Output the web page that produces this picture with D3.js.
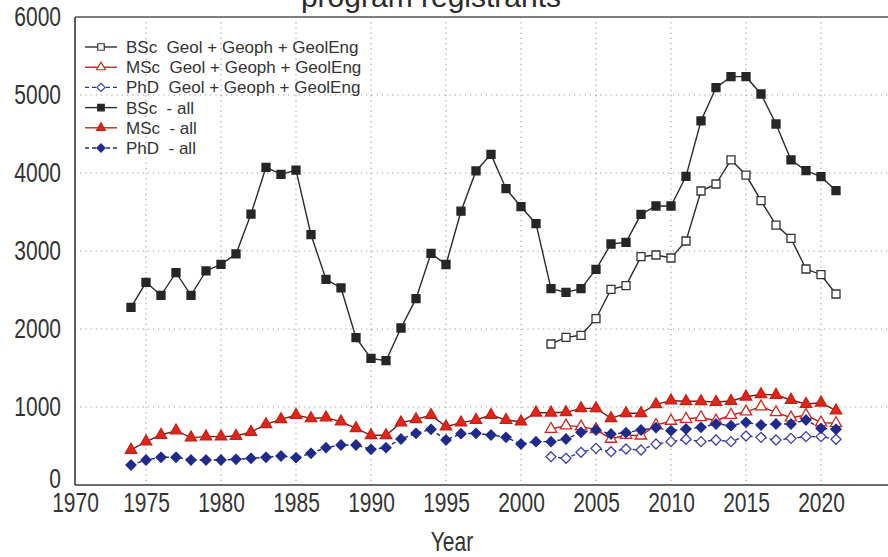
<!DOCTYPE html>
<html>
<head>
<meta charset="utf-8">
<script src="https://cdn.jsdelivr.net/npm/d3@7"></script>
<style>
  html, body { margin: 0; padding: 0; background: #fff; }
  svg { display: block; font-family: "Liberation Sans", Arial, sans-serif; }
</style>
</head>
<body>
<svg id="chart" width="888" height="557"></svg>
<script>
// Registrant counts per year
const yearsAll = d3.range(1974, 2022);
const yearsGeo = d3.range(2002, 2022);

const bscAll = [2278, 2599, 2432, 2722, 2432, 2744, 2829, 2962, 3474, 4073, 3983, 4038,
  3209, 2637, 2526, 1889, 1624, 1594, 2013, 2389, 2970, 2827, 3510, 4026, 4239, 3799,
  3568, 3350, 2517, 2470, 2517, 2765, 3090, 3111, 3470, 3577, 3577, 3957, 4667, 5094,
  5235, 5235, 5013, 4628, 4167, 4030, 3953, 3773];
const mscAll = [449, 556, 641, 697, 607, 620, 620, 628, 679, 778, 842, 897, 855, 863, 812,
  726, 637, 637, 799, 842, 897, 748, 799, 833, 897, 833, 812, 927, 927, 932, 983, 983,
  855, 919, 919, 1034, 1081, 1073, 1073, 1064, 1077, 1132, 1162, 1154, 1090, 1038, 1055, 953];
const phdAll = [256, 321, 355, 355, 321, 321, 321, 329, 342, 355, 372, 350, 406, 479, 513,
  513, 457, 479, 590, 662, 714, 577, 658, 662, 641, 611, 526, 556, 556, 590, 675, 705,
  654, 671, 705, 735, 697, 718, 739, 782, 761, 803, 769, 782, 782, 833, 726, 714];
const bscGeo = [1808, 1893, 1919, 2132, 2509, 2556, 2927, 2949, 2910, 3128, 3769, 3859,
  4167, 3974, 3645, 3333, 3162, 2769, 2696, 2449];
const mscGeo = [718, 761, 748, 714, 590, 641, 632, 769, 821, 846, 868, 825, 897, 940,
  1004, 932, 863, 897, 799, 791];
const phdGeo = [363, 342, 419, 470, 427, 462, 449, 526, 556, 586, 556, 577, 556, 628,
  611, 577, 598, 620, 620, 586];

const xTicks = d3.range(1970, 2021, 5);
const yTicks = d3.range(0, 6001, 1000);
const titleText = "program registrants";
const xLabel = "Year";

const legendLabels = [
  "BSc  Geol + Geoph + GeolEng",
  "MSc  Geol + Geoph + GeolEng",
  "PhD  Geol + Geoph + GeolEng",
  "BSc  - all",
  "MSc  - all",
  "PhD  - all"
];

// Square-on-point diamond (equal width and height)
const symbolRhombus = {
  draw(context, size) {
    const r = Math.sqrt(size / 2);
    context.moveTo(0, -r);
    context.lineTo(r, 0);
    context.lineTo(0, r);
    context.lineTo(-r, 0);
    context.closePath();
  }
};
const shapeTypes = { square: d3.symbolSquare, triangle: d3.symbolTriangle, diamond: symbolRhombus };

// Series styling
const series = [
  { years: yearsGeo, values: bscGeo, label: legendLabels[0], line: "#2b2b2b", legendLine: "#2b2b2b", dash: null, shape: "square", fill: "#fff", stroke: "#333" },
  { years: yearsGeo, values: mscGeo, label: legendLabels[1], line: "#b0241c", legendLine: "#c0281e", dash: null, shape: "triangle", fill: "#fff", stroke: "#d8261c" },
  { years: yearsGeo, values: phdGeo, label: legendLabels[2], line: "#2e3596", legendLine: "#2e3596", dash: "4,3", shape: "diamond", fill: "#fff", stroke: "#3b3fae" },
  { years: yearsAll, values: bscAll, label: legendLabels[3], line: "#2b2b2b", legendLine: "#2b2b2b", dash: null, shape: "square", fill: "#262626", stroke: "#262626" },
  { years: yearsAll, values: mscAll, label: legendLabels[4], line: "#6e1f18", legendLine: "#c0281e", dash: null, shape: "triangle", fill: "#e0261a", stroke: "#c81f15" },
  { years: yearsAll, values: phdAll, label: legendLabels[5], line: "#1f2a86", legendLine: "#1f2a86", dash: "4,3", shape: "diamond", fill: "#1f2a8c", stroke: "#1f2a8c" }
];
const markerSize = { square: 64, triangle: 56, diamond: 50 };
const legendMarkerSize = { square: 42, triangle: 34, diamond: 34 };

const svg = d3.select("#chart");
const W = 888;
const plotLeft = 75, plotTop = 17, plotBottom = 485;

const x = d3.scaleLinear().domain([1970, 2025]).range([71, 896]);
const y = d3.scaleLinear().domain([0, 6000]).range([plotBottom, plotTop]);

const textColor = "#333";
const squeeze = 0.75;

// Title (second line of a two-line heading)
svg.append("text")
  .attr("x", 431).attr("y", 7)
  .attr("text-anchor", "middle")
  .attr("font-size", 30)
  .attr("fill", "#2a2a2a")
  .text(titleText);

// Dotted grid
const grid = svg.append("g");
grid.selectAll("line.v").data(xTicks.filter(d => d > 1970).concat([2025]))
  .join("line")
  .attr("x1", d => x(d)).attr("x2", d => x(d))
  .attr("y1", plotTop).attr("y2", plotBottom)
  .attr("stroke", "#9a9a9a").attr("stroke-width", 1.1)
  .attr("stroke-dasharray", "1.2,4");
grid.selectAll("line.h").data(yTicks.filter(d => d > 0 && d < 6000))
  .join("line")
  .attr("x1", plotLeft).attr("x2", W)
  .attr("y1", d => y(d)).attr("y2", d => y(d))
  .attr("stroke", "#9a9a9a").attr("stroke-width", 1.1)
  .attr("stroke-dasharray", "1.2,4");

// Axes
const xAxis = svg.append("g")
  .attr("transform", `translate(0,${plotBottom})`)
  .call(d3.axisBottom(x).tickValues(xTicks).tickSize(0).tickFormat(d3.format("d")));
xAxis.select(".domain").remove();
xAxis.selectAll("text")
  .attr("font-size", 28)
  .attr("font-family", "'Liberation Sans', Arial, sans-serif")
  .attr("fill", textColor)
  .attr("y", 7)
  .attr("transform", `scale(${squeeze},1)`);
xAxis.selectAll(".tick").filter(d => d === 1970).select("text").attr("x", 4 / squeeze);

const yAxis = svg.append("g")
  .attr("transform", `translate(${plotLeft},0)`)
  .call(d3.axisLeft(y).tickValues(yTicks).tickSize(0).tickFormat(d3.format("d")));
yAxis.select(".domain").remove();
yAxis.selectAll("text")
  .attr("font-size", 28)
  .attr("font-family", "'Liberation Sans', Arial, sans-serif")
  .attr("fill", textColor)
  .attr("x", -14 / squeeze)
  .attr("dy", "0.3em")
  .attr("transform", `scale(${squeeze},1)`);
yAxis.selectAll(".tick").filter(d => d === 0).select("text").attr("dy", "0.1em");

// Frame lines
svg.append("line").attr("x1", plotLeft).attr("x2", plotLeft).attr("y1", plotTop).attr("y2", plotBottom)
  .attr("stroke", "#3a3a3a").attr("stroke-width", 1.6);
svg.append("line").attr("x1", plotLeft).attr("x2", W).attr("y1", plotBottom).attr("y2", plotBottom)
  .attr("stroke", "#3a3a3a").attr("stroke-width", 1.6);
svg.append("line").attr("x1", plotLeft).attr("x2", W).attr("y1", plotTop).attr("y2", plotTop)
  .attr("stroke", "#555").attr("stroke-width", 1.4);

// X axis title
svg.append("text")
  .attr("transform", `translate(452,551) scale(${squeeze},1)`)
  .attr("text-anchor", "middle")
  .attr("font-size", 28)
  .attr("fill", textColor)
  .text(xLabel);

const lineGen = d3.line().x(d => x(d[0])).y(d => y(d[1]));
const plot = svg.append("g");

series.forEach(s => {
  const pts = s.years.map((yr, i) => [yr, s.values[i]]);
  plot.append("path")
    .datum(pts)
    .attr("fill", "none")
    .attr("stroke", s.line)
    .attr("stroke-width", 1.4)
    .attr("stroke-dasharray", s.dash)
    .attr("d", lineGen);
});

series.forEach(s => {
  const pts = s.years.map((yr, i) => [yr, s.values[i]]);
  const sym = d3.symbol().type(shapeTypes[s.shape]).size(markerSize[s.shape]);
  plot.append("g").selectAll("path")
    .data(pts)
    .join("path")
    .attr("transform", d => `translate(${x(d[0])},${y(d[1])})`)
    .attr("d", sym())
    .attr("fill", s.fill)
    .attr("stroke", s.stroke)
    .attr("stroke-width", 1.3);
});

// Legend
const legend = svg.append("g").attr("transform", "translate(85,47)");
const rowH = 20.2;
const rows = legend.selectAll("g").data(series).join("g")
  .attr("transform", (d, i) => `translate(0,${i * rowH})`);
rows.append("line")
  .attr("x1", 0).attr("x2", 32).attr("y1", 0).attr("y2", 0)
  .attr("stroke", d => d.legendLine)
  .attr("stroke-width", 1.4)
  .attr("stroke-dasharray", d => d.dash);
rows.append("path")
  .attr("transform", "translate(16,0)")
  .attr("d", d => d3.symbol().type(shapeTypes[d.shape]).size(legendMarkerSize[d.shape])())
  .attr("fill", d => d.fill)
  .attr("stroke", d => d.stroke)
  .attr("stroke-width", 1.2);
rows.append("text")
  .attr("x", 41).attr("y", 0).attr("dy", "0.35em")
  .attr("font-size", 17)
  .attr("fill", "#333")
  .attr("xml:space", "preserve")
  .style("white-space", "pre")
  .text(d => d.label);
</script>
</body>
</html>
